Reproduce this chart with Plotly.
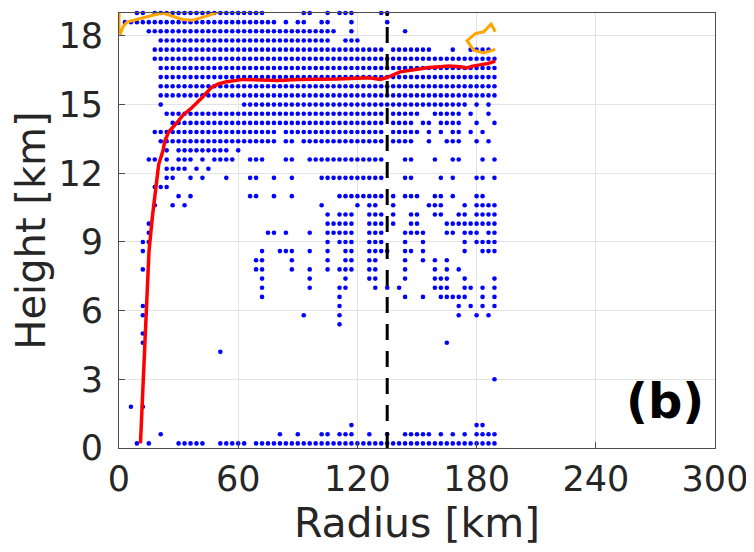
import plotly.graph_objects as go

# grid geometry of the data points
dx_km = 3.0          # radial spacing of cells
z0_km, dz_km = 0.2, 0.4   # height of first row and row spacing

# occupied radial cell indices (k -> radius = 3k km) for each height row j (z = 0.2 + 0.4 j)
rows = [
    "3,5,10-14,17-21,23-63",                                   # j=0
    "7,27,30,34,35,37-39,42,45,48-52,54,56,58,60-63",          # j=1
    "39,60,61",                                                # j=2
    "",                                                        # j=3
    "2,4",                                                     # j=4
    "", "",                                                    # j=5,6
    "63",                                                      # j=7
    "", "",                                                    # j=8,9
    "17",                                                      # j=10
    "4,55",                                                    # j=11
    "4",                                                       # j=12
    "37",                                                      # j=13
    "4,31,37,57,60,62",                                        # j=14
    "4,37,57,59,61,63",                                        # j=15
    "24,37,48,51,54-58,61,63",                                 # j=16
    "24,32,37,38,43,45,47,53-55,58,59,61,63",                  # j=17
    "24,32,38,42,43,48,53-55,58,63",                           # j=18
    "4,23,24,29,32,35,37-39,42,43,48,53,55,57",                # j=19
    "23,24,29,35,38,39,42,43,48,51,53,55",                     # j=20
    "4,24,27-29,32,35,38,39,42-45,48,49,51,58,61-63",          # j=21
    "4,5,35,37-39,42-44,48,51,58,60-63",                       # j=22
    "5,25,26,28,32,35-39,42-44,48-51,55,56,58-60,62,63",       # j=23
    "5,35-39,42-44,46,49,50,55-63",                            # j=24
    "35,37-39,42-44,46,49,50,53,54,57,58,60-63",               # j=25
    "6,9,11,34,40,42,43,46,52-54,58,60-63",                    # j=26
    "10,12,22,23,26,29,37-44,46,48-50,53,54,56,60,61",         # j=27
    "6-8",                                                     # j=28
    "8,9,12,14,18,22,23,26,29,34-44,48,49,54,56,60,61,63",     # j=29
    "8-11,13,15",                                              # j=30
    "5,6,8,10-12,14,16-19,22-24,28,29,32-44,48,49,53,56,57,61,63",  # j=31
    "8,10-18,20",                                              # j=32
    "7-26,28,29,31-44,46-49,52,55-57,60,62",                   # j=33
    "6-26,28-44,46-50,52,54,56,57,59,61",                      # j=34
    "9-44,46-49,51,52,54-57,60,63",                            # j=35
    "8-44,46-50,53-57,59,62",                                  # j=36
    "7,21-58,60,62",                                           # j=37
    "7-63",                                                    # j=38
    "7-63",                                                    # j=39
    "7-63",                                                    # j=40
    "7-63",                                                    # j=41
    "6-63",                                                    # j=42
    "6-44,46-52,56,59-62",                                     # j=43
    "7-35,38-40",                                              # j=44
    "5-36,39,48",                                              # j=45
    "1-26,28,30,31,34,35,39,45",                               # j=46
    "3,4,6-24,31,32,35,37-39,44,45",                           # j=47
]

# mean height curve (red)
red_r = [10.8, 11.8, 12.8, 13.6, 14.3, 15.1, 16.8, 18.9, 20.0, 22.2, 23.0, 25.0, 27.2, 30.0,
         32.3, 36.5, 41.5, 46.6, 50.0, 54.2, 62.5, 70.0, 80.0, 90.0, 100.0, 110.0, 120.0,
         126.0, 131.5, 134.8, 141.5, 146.0, 151.6, 156.0, 161.7, 166.0, 171.8, 175.0,
         178.0, 181.9, 186.0, 189.4]
red_z = [0.2, 2.0, 4.0, 6.0, 7.3, 8.6, 10.1, 11.6, 12.4, 13.0, 13.4, 13.8, 14.0, 14.3,
         14.55, 14.85, 15.28, 15.75, 15.9, 16.0, 16.1, 16.08, 16.05, 16.1, 16.1, 16.12, 16.15,
         16.17, 16.1, 16.18, 16.43, 16.5, 16.58, 16.62, 16.65, 16.68, 16.65, 16.6,
         16.68, 16.72, 16.8, 16.9]

# orange contours
or1_r = [0.0, 0.0, 0.8, 2.0, 4.0, 8.0, 12.0, 17.0, 22.0, 27.0, 32.0, 37.0, 42.0, 46.0, 50.0]
or1_z = [19.1, 18.15, 18.1, 18.4, 18.6, 18.7, 18.78, 18.9, 19.0, 18.85, 18.72, 18.68, 18.8, 18.92, 19.05]
or2_r = [189.4, 187.3, 183.6, 179.4, 175.2, 178.5, 183.6, 189.4]
or2_z = [18.18, 18.52, 18.18, 18.1, 17.79, 17.38, 17.26, 17.41]

rmw_km = 135.0  # dashed vertical line

x_ticks = [0, 60, 120, 180, 240, 300]
y_ticks = [0, 3, 6, 9, 12, 15, 18]


def parse(spec):
    out = []
    for part in spec.split(","):
        part = part.strip()
        if not part:
            continue
        if "-" in part:
            a, b = part.split("-")
            out.extend(range(int(a), int(b) + 1))
        else:
            out.append(int(part))
    return out


pts_x, pts_y = [], []
for j, spec in enumerate(rows):
    for k in parse(spec):
        pts_x.append(k * dx_km)
        pts_y.append(round(z0_km + dz_km * j, 2))

FONT = "DejaVu Sans"
TXT = "#262626"
fig = go.Figure()
fig.add_trace(go.Scatter(x=pts_x, y=pts_y, mode="markers",
                         marker=dict(color="#0000ff", size=4.6, line=dict(width=0)),
                         cliponaxis=False, hoverinfo="skip"))
fig.add_trace(go.Scatter(x=red_r, y=red_z, mode="lines",
                         line=dict(color="#ff0000", width=3.5)))
fig.add_trace(go.Scatter(x=or1_r, y=or1_z, mode="lines",
                         line=dict(color="#ffa500", width=3)))
fig.add_trace(go.Scatter(x=or2_r, y=or2_z, mode="lines",
                         line=dict(color="#ffa500", width=3)))
fig.add_trace(go.Scatter(x=[rmw_km, rmw_km], y=[0, 19], mode="lines",
                         line=dict(color="#000000", width=3, dash="16px,11px")))

axis_common = dict(showgrid=True, gridcolor="#e3e3e3", gridwidth=1,
                   showline=True, linecolor="#4d4d4d", linewidth=1, mirror=True,
                   ticks="inside", ticklen=6, tickcolor="#4d4d4d",
                   zeroline=False, automargin=False,
                   tickfont=dict(family=FONT, size=35, color=TXT))

# the page body adds an 8 px offset, so margins are shifted to keep the plot box in place
fig.update_layout(
    width=754, height=552,
    margin=dict(l=111, r=47, t=5, b=112),
    paper_bgcolor="white", plot_bgcolor="white",
    showlegend=False,
    xaxis=dict(range=[0, 300], tickvals=x_ticks,
               title=dict(text="Radius [km]", font=dict(family=FONT, size=41, color=TXT),
                          standoff=2),
               **axis_common),
    yaxis=dict(range=[0, 19], tickvals=y_ticks, ticklabelstandoff=8,
               title=dict(text="Height [km]", font=dict(family=FONT, size=40, color=TXT),
                          standoff=6),
               **axis_common),
    annotations=[
        dict(text="<b>(b)</b>", xref="paper", yref="paper", x=0.985, y=0.04,
             xanchor="right", yanchor="bottom", showarrow=False,
             font=dict(family=FONT, size=48, color="#000000")),
        dict(text="0", xref="paper", yref="paper", x=-0.188, y=-0.07,
             xanchor="right", yanchor="middle", showarrow=False,
             font=dict(family=FONT, size=35, color=TXT)),
    ],
)

fig.write_html("out.html")
